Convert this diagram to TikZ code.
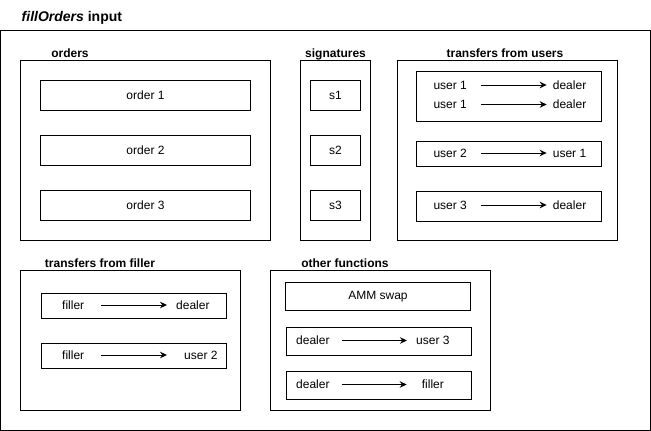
\documentclass[tikz,border=0pt]{standalone}
\usepackage{fontspec}
\setmainfont{Liberation Sans}
\usetikzlibrary{arrows.meta}
\tikzset{
    frame/.style={draw, line width=1pt},
    item/.style={draw, line width=1pt, inner sep=0pt},
    lbl/.style={font=\fontsize{12}{14}\selectfont\bfseries, anchor=base, inner sep=0pt},
    word/.style={inner sep=0pt, text height=8.6pt, text depth=0pt},
    flow/.style={-{Stealth[length=7pt,width=6.5pt]}, line width=1pt},
}
\newcommand{\boxat}[3]{
    \node[item, minimum width=#2, minimum height=#3, anchor=north west] at (#1) {};
}
\begin{document}
\begin{tikzpicture}[x=1pt, y=-1pt, font=\fontsize{12}{14}\selectfont]
    \useasboundingbox (0,0) rectangle (651,431);
    \node[anchor=base west, inner sep=0pt, font=\fontsize{14}{16}\selectfont\bfseries] (title) at (21.5,21) {\textit{fillOrders} input};
    \draw[frame] (0.5,30.5) rectangle (650,430.5);

    % orders
    \node[lbl] (ordlbl) at (70,57.5) {orders};
    \draw[frame] (20.5,60.5) rectangle (270.5,240.5);
    \node[item, minimum width=210pt, minimum height=30pt] (o1) at (145.5,95.5) {order 1};
    \node[item, minimum width=210pt, minimum height=30pt] (o2) at (145.5,150.5) {order 2};
    \node[item, minimum width=210pt, minimum height=30pt] (o3) at (145.5,205.5) {order 3};

    % signatures
    \node[lbl] (siglbl) at (335.5,57.5) {signatures};
    \draw[frame] (300.5,60.5) rectangle (370.5,240.5);
    \node[item, minimum width=50pt, minimum height=30pt] (s1) at (335.5,95.5) {s1};
    \node[item, minimum width=50pt, minimum height=30pt] (s2) at (335.5,150.5) {s2};
    \node[item, minimum width=50pt, minimum height=30pt] (s3) at (335.5,205.5) {s3};

    % transfers from users
    \node[lbl] (usrlbl) at (505,57.5) {transfers from users};
    \draw[frame] (397.5,60.5) rectangle (617.5,240.5);
    \boxat{415.5,70.5}{185pt}{50pt}
    \boxat{415.5,140.5}{185pt}{25pt}
    \boxat{415.5,190.5}{185pt}{30pt}
    \node[word, anchor=west] (ua) at (433.3,85) {user 1};
    \node[word, anchor=west] (da) at (552.7,85) {dealer};
    \node[word, anchor=west] (ub) at (433.3,104.5) {user 1};
    \node[word, anchor=west] (db) at (552.7,104.5) {dealer};
    \node[word, anchor=west] (uc) at (433.3,153) {user 2};
    \node[word, anchor=west] (uc1) at (552.7,153) {user 1};
    \node[word, anchor=west] (ud) at (433.3,205) {user 3};
    \node[word, anchor=west] (dd) at (552.7,205) {dealer};
    \draw[flow, shorten <=14pt, shorten >=6pt] (ua) -- (da);
    \draw[flow, shorten <=14pt, shorten >=6pt] (ub) -- (db);
    \draw[flow, shorten <=14pt, shorten >=6pt] (uc) -- (uc1);
    \draw[flow, shorten <=14pt, shorten >=6pt] (ud) -- (dd);

    % transfers from filler
    \node[lbl] (fillbl) at (100,267) {transfers from filler};
    \draw[frame] (20.5,270.5) rectangle (240.5,410.5);
    \boxat{40.5,292.5}{185pt}{25pt}
    \boxat{40.5,342.5}{185pt}{25pt}
    \node[word, anchor=west] (fa) at (62,305) {filler};
    \node[word, anchor=west] (fda) at (176,305) {dealer};
    \node[word, anchor=west] (fb) at (62,355) {filler};
    \node[word, anchor=west] (fub) at (184,355) {user 2};
    \draw[flow, shorten <=17pt, shorten >=9pt] (fa) -- (fda);
    \draw[flow, shorten <=17pt, shorten >=17pt] (fb) -- (fub);

    % other functions
    \node[lbl] (othlbl) at (345,267) {other functions};
    \draw[frame] (270.5,270.5) rectangle (490.5,410.5);
    \node[item, minimum width=185pt, minimum height=28pt] (amm) at (378,296.5) {AMM swap};
    \boxat{285.5,326.5}{185pt}{28pt}
    \boxat{285.5,370.5}{185pt}{28pt}
    \node[word, anchor=west] (oa) at (296,340.5) {dealer};
    \node[word, anchor=west] (oua) at (416,340.5) {user 3};
    \node[word, anchor=west] (ob) at (296,384.5) {dealer};
    \node[word, anchor=west] (ofb) at (421.7,384.5) {filler};
    \draw[flow, shorten <=12pt, shorten >=9pt] (oa) -- (oua);
    \draw[flow, shorten <=12pt, shorten >=15pt] (ob) -- (ofb);
\end{tikzpicture}
\end{document}
